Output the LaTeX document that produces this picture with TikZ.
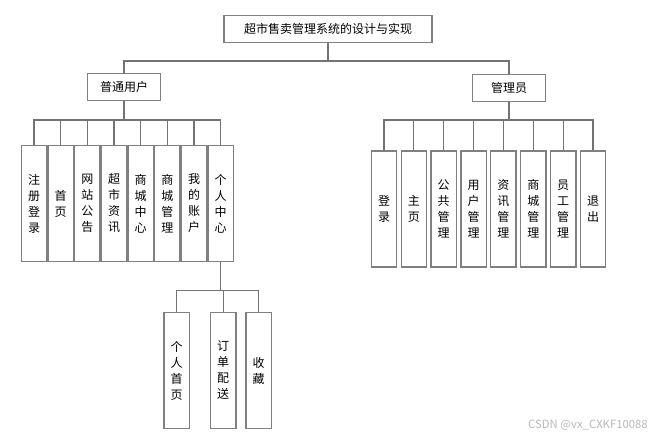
\documentclass[tikz,border=0pt]{standalone}
\usepackage{fontspec}
\usepackage{tikz}
\usetikzlibrary{positioning}
\newfontfamily\cjk{Noto Sans CJK SC}

\begin{document}
\begin{tikzpicture}[
x=0.75pt, y=-0.75pt,
titlebox/.style={rectangle, draw=gray, line width=1pt, minimum width=156pt, minimum height=20pt, font=\cjk\fontsize{9}{12}\selectfont},
rolebox/.style={rectangle, draw=gray, line width=1pt, minimum width=54.5pt, minimum height=20pt, font=\cjk\fontsize{9}{12}\selectfont},
itembox/.style={rectangle, draw=gray, line width=1pt, minimum width=19pt, minimum height=87pt, inner sep=0pt, align=center, font=\cjk\fontsize{9}{12}\selectfont},
link/.style={draw=gray!90!black, line width=0.9pt},
]
\useasboundingbox (0,0) rectangle (665,439);

\node[titlebox] (root) at (328,29) {超市售卖管理系统的设计与实现};
\node[rolebox] (user) at (124,87) {普通用户};
\node[rolebox] (admin) at (509,88) {管理员};

% user side
\node[itembox] (reg) at (34,203.5) {注\\册\\登\\录};
\node[itembox] (home) [right=0pt of reg] {首\\页};
\node[itembox] (notice) [right=0pt of home] {网\\站\\公\\告};
\node[itembox] (news) [right=0pt of notice] {超\\市\\资\\讯};
\node[itembox] (mall) [right=0pt of news] {商\\城\\中\\心};
\node[itembox] (mallmgr) [right=0pt of mall] {商\\城\\管\\理};
\node[itembox] (account) [right=0pt of mallmgr] {我\\的\\账\\户};
\node[itembox] (center) [right=0pt of account] {个\\人\\中\\心};

\node[itembox] (myhome) at (176.5,370.5) {个\\人\\首\\页};
\node[itembox] (order) [right=15pt of myhome] {订\\单\\配\\送};
\node[itembox] (fav) [right=6.5pt of order] {收\\藏};

% admin side
\node[itembox] (login) at (384,209) {登\\录};
\node[itembox] (main) [right=2.4pt of login] {主\\页};
\node[itembox] (pubmgr) [right=2.4pt of main] {公\\共\\管\\理};
\node[itembox] (usermgr) [right=2.4pt of pubmgr] {用\\户\\管\\理};
\node[itembox] (newsmgr) [right=2.4pt of usermgr] {资\\讯\\管\\理};
\node[itembox] (shopmgr) [right=2.4pt of newsmgr] {商\\城\\管\\理};
\node[itembox] (staffmgr) [right=2.4pt of shopmgr] {员\\工\\管\\理};
\node[itembox] (logout) [right=2.4pt of staffmgr] {退\\出};

\node[font=\cjk\fontsize{8.5}{10}\selectfont, text=gray!55] (mark) at (588,425) {CSDN @vx\_CXKF10088};

\path (root.south) ++(0,18) coordinate (rootbar);
\path (user.south) ++(0,19) coordinate (userbar);
\path (admin.south) ++(0,18) coordinate (adminbar);
\path (center.south) ++(0,28) coordinate (centerbar);

\draw[link] (root.south) -- (rootbar);
\draw[link] (rootbar) -| (user.north);
\draw[link] (rootbar) -| (admin.north);

\draw[link] (user.south) -- (userbar);
\draw[link] (userbar) -| (reg.north);
\draw[link] (userbar) -| (home.north);
\draw[link] (userbar) -| (notice.north);
\draw[link] (userbar) -| (news.north);
\draw[link] (userbar) -| (mall.north);
\draw[link] (userbar) -| (mallmgr.north);
\draw[link] (userbar) -| (account.north);
\draw[link] (userbar) -| (center.north);

\draw[link] (center.south) -- (centerbar);
\draw[link] (centerbar) -| (myhome.north);
\draw[link] (centerbar) -| (order.north);
\draw[link] (centerbar) -| (fav.north);

\draw[link] (admin.south) -- (adminbar);
\draw[link] (adminbar) -| (login.north);
\draw[link] (adminbar) -| (main.north);
\draw[link] (adminbar) -| (pubmgr.north);
\draw[link] (adminbar) -| (usermgr.north);
\draw[link] (adminbar) -| (newsmgr.north);
\draw[link] (adminbar) -| (shopmgr.north);
\draw[link] (adminbar) -| (staffmgr.north);
\draw[link] (adminbar) -| (logout.north);
\end{tikzpicture}
\end{document}
